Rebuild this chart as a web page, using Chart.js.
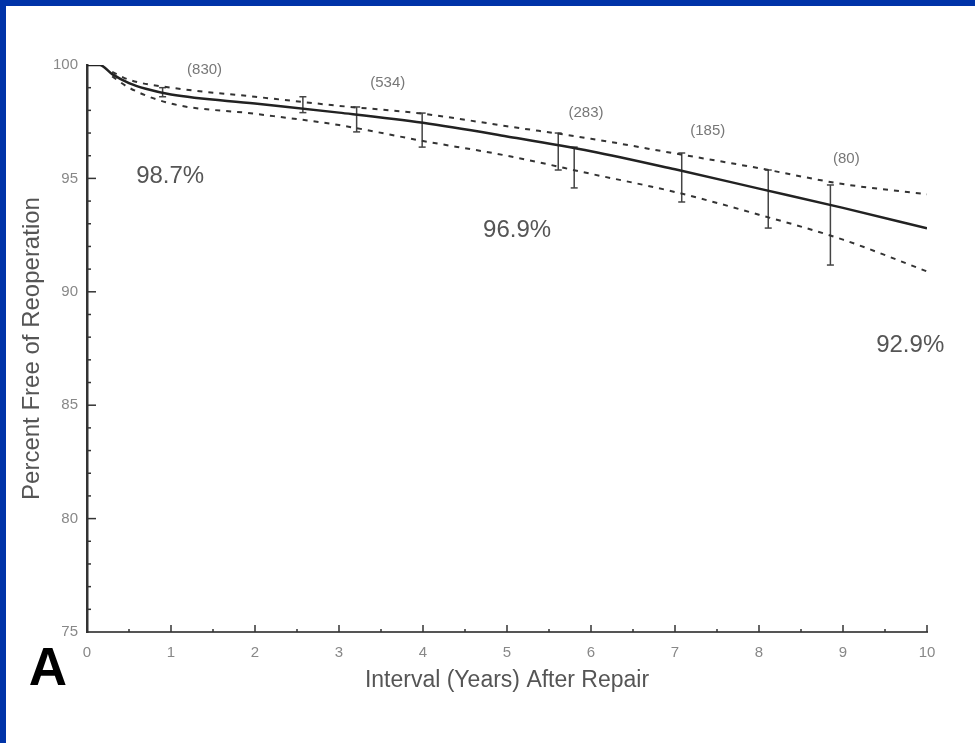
<!DOCTYPE html>
<html>
<head>
<meta charset="utf-8">
<script src="https://cdn.jsdelivr.net/npm/chart.js@4.4.1/dist/chart.umd.min.js"></script>
<style>
    html, body { margin: 0; padding: 0; }
    body { width: 975px; height: 743px; background: #0033a8; position: relative; overflow: hidden; }
    #panel { position: absolute; left: 6px; top: 6px; width: 969px; height: 737px; background: #fff; }
</style>
</head>
<body>
<div id="panel"><canvas id="freedomChart" width="969" height="737"></canvas></div>
<script>
// Кривая свободы от реоперации (годы / проценты)
const curveYears = [0, 0.15, 0.3, 0.5, 0.7, 1, 2, 3, 4, 5, 6, 7, 8, 9, 10];
const curveValues = [100, 100, 99.6, 99.2, 98.95, 98.7, 98.3, 97.9, 97.45, 96.85, 96.2, 95.4, 94.55, 93.7, 92.8];

// Доверительные границы
const bandYears = [0.3, 0.5, 1, 2, 3, 4, 5, 6, 7, 8, 9, 10];
const upperValues = [99.7, 99.35, 99.0, 98.6, 98.2, 97.85, 97.3, 96.75, 96.1, 95.45, 94.75, 94.3];
const lowerValues = [99.5, 99.0, 98.3, 97.85, 97.35, 96.65, 96.0, 95.2, 94.4, 93.4, 92.3, 90.9];

// Планки погрешностей
const errYears = [0.9, 2.57, 3.21, 3.99, 5.61, 5.8, 7.08, 8.11, 8.85];
const errHigh = [99.0, 98.6, 98.15, 97.88, 97.0, 96.38, 96.12, 95.37, 94.71];
const errLow = [98.6, 97.9, 97.05, 96.38, 95.37, 94.58, 93.96, 92.81, 91.18];

// Число пациентов под риском
const atRiskLabels = ['(830)', '(534)', '(283)', '(185)', '(80)'];
const atRiskYears = [1.4, 3.58, 5.94, 7.39, 9.04];
const atRiskY = [99.78, 99.2, 97.9, 97.1, 95.86];

// Проценты на 1, 5 и 10 лет
const pctLabels = ['98.7%', '96.9%', '92.9%'];
const pctYears = [0.99, 5.12, 9.8];
const pctY = [95.1, 92.72, 87.65];

const FONT = '"Liberation Sans", Arial, sans-serif';

const toPoints = (xs, ys) => xs.map((x, i) => ({ x, y: ys[i] }));

const errPoints = [];
errYears.forEach((x, i) => {
    errPoints.push({ x, y: errLow[i] }, { x, y: errHigh[i] }, { x, y: null });
});

// Внутренние засечки, подписи и буква панели
const decorPlugin = {
    id: 'decor',
    afterDraw(chart) {
        const { ctx, scales: { x, y } } = chart;
        ctx.save();
        ctx.strokeStyle = '#333';
        ctx.lineWidth = 1.5;
        for (let v = 0.5; v < 10; v += 0.5) {
            const px = x.getPixelForValue(v);
            const len = Number.isInteger(v) ? 7 : 3;
            ctx.beginPath();
            ctx.moveTo(px, y.bottom);
            ctx.lineTo(px, y.bottom - len);
            ctx.stroke();
        }
        ctx.beginPath();
        ctx.moveTo(x.right, y.bottom);
        ctx.lineTo(x.right, y.bottom - 7);
        ctx.stroke();
        for (let v = 76; v < 100; v++) {
            const py = y.getPixelForValue(v);
            const len = v % 5 === 0 ? 9 : 4;
            ctx.beginPath();
            ctx.moveTo(x.left, py);
            ctx.lineTo(x.left + len, py);
            ctx.stroke();
        }

        ctx.textAlign = 'center';
        ctx.textBaseline = 'middle';
        ctx.fillStyle = '#777';
        ctx.font = '15px ' + FONT;
        atRiskLabels.forEach((t, i) => {
            ctx.fillText(t, x.getPixelForValue(atRiskYears[i]), y.getPixelForValue(atRiskY[i]));
        });
        ctx.fillStyle = '#555';
        ctx.font = '24px ' + FONT;
        pctLabels.forEach((t, i) => {
            ctx.fillText(t, x.getPixelForValue(pctYears[i]), y.getPixelForValue(pctY[i]));
        });

        ctx.fillStyle = '#000';
        ctx.font = 'bold 53px ' + FONT;
        ctx.fillText('A', 42, 664);
        ctx.restore();
    }
};

const ctx = document.getElementById('freedomChart').getContext('2d');
new Chart(ctx, {
    type: 'line',
    data: {
        datasets: [
            {
                label: 'Freedom',
                data: toPoints(curveYears, curveValues),
                borderColor: '#222',
                borderWidth: 2.5,
                pointRadius: 0,
                cubicInterpolationMode: 'monotone'
            },
            {
                label: 'Upper',
                data: toPoints(bandYears, upperValues),
                borderColor: '#333',
                borderWidth: 2,
                borderDash: [5, 6],
                pointRadius: 0,
                cubicInterpolationMode: 'monotone'
            },
            {
                label: 'Lower',
                data: toPoints(bandYears, lowerValues),
                borderColor: '#333',
                borderWidth: 2,
                borderDash: [5, 6],
                pointRadius: 0,
                cubicInterpolationMode: 'monotone'
            },
            {
                label: 'Error',
                data: errPoints,
                borderColor: '#444',
                borderWidth: 1.5,
                spanGaps: false,
                pointStyle: 'line',
                pointRadius: 3.5,
                pointBorderWidth: 1.5,
                pointBorderColor: '#444'
            }
        ]
    },
    options: {
        responsive: false,
        animation: false,
        layout: { padding: { left: 8, top: 59, right: 48, bottom: 45 } },
        plugins: { legend: { display: false }, tooltip: { enabled: false } },
        scales: {
            x: {
                type: 'linear',
                min: 0,
                max: 10,
                afterFit: s => { s.height = 66; },
                grid: { display: false, drawTicks: false },
                border: { display: true, color: '#555', width: 2 },
                ticks: { stepSize: 1, padding: 12, color: '#888', font: { family: FONT, size: 15 } },
                title: { display: true, text: 'Interval (Years) After Repair', color: '#555', padding: 4, font: { family: FONT, size: 23 } }
            },
            y: {
                min: 75,
                max: 100,
                afterFit: s => { s.width = 73; },
                grid: { display: false, drawTicks: false },
                border: { display: true, color: '#333', width: 2.5 },
                ticks: { stepSize: 5, padding: 9, color: '#888', font: { family: FONT, size: 15 } },
                title: { display: true, text: 'Percent Free of Reoperation', color: '#555', padding: 4, font: { family: FONT, size: 24 } }
            }
        }
    },
    plugins: [decorPlugin]
});
</script>
</body>
</html>
